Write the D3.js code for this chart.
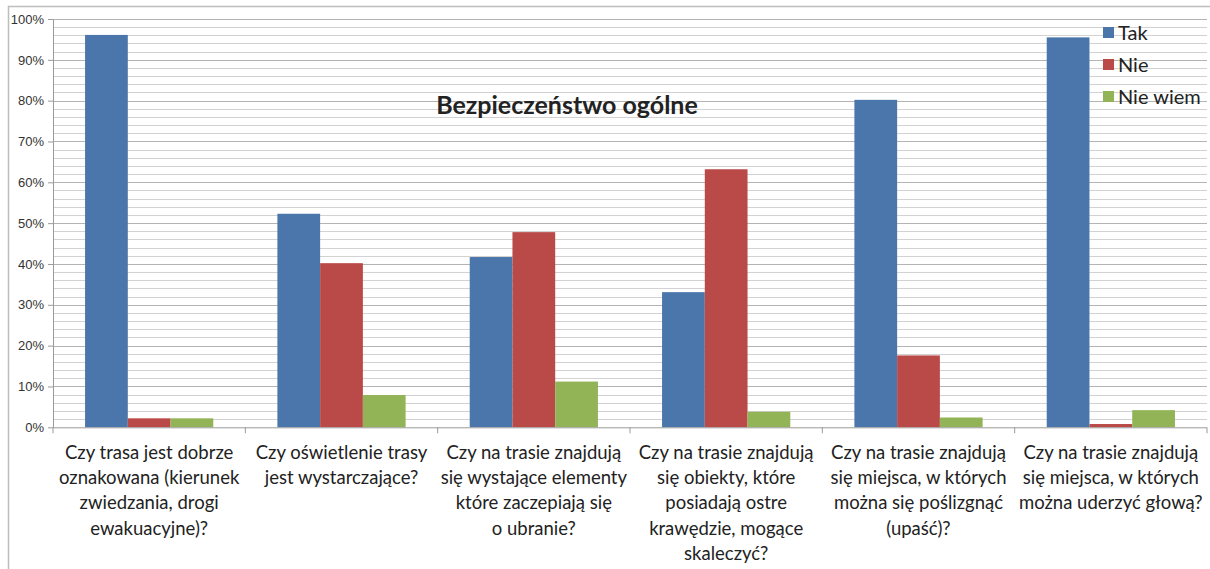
<!DOCTYPE html>
<html><head><meta charset="utf-8">
<script src="https://cdn.jsdelivr.net/npm/d3@7"></script>
<style>body{margin:0;background:#fff;}svg{display:block;font-family:Lato, "Open Sans", sans-serif;}</style>
</head><body>
<svg id="c" width="1210" height="569"></svg>
<script>
const categories = [
  ["Czy trasa jest dobrze","oznakowana (kierunek","zwiedzania, drogi","ewakuacyjne)?"],
  ["Czy oświetlenie trasy","jest wystarczające?"],
  ["Czy na trasie znajdują","się wystające elementy","które zaczepiają się","o ubranie?"],
  ["Czy na trasie znajdują","się obiekty, które","posiadają ostre","krawędzie, mogące","skaleczyć?"],
  ["Czy na trasie znajdują","się miejsca, w których","można się poślizgnąć","(upaść)?"],
  ["Czy na trasie znajdują","się miejsca, w których","można uderzyć głową?"]
];
const seriesNames = ["Tak","Nie","Nie wiem"];
const tak = [96.1, 52.3, 41.7, 33.1, 80.2, 95.5];
const nie = [2.2, 40.2, 47.8, 63.2, 17.6, 0.8];
const nieWiem = [2.2, 7.9, 11.2, 3.8, 2.4, 4.2];
const yTicks = [0,10,20,30,40,50,60,70,80,90,100];
const title = "Bezpieczeństwo ogólne";
const colors = ["#4a76ab","#b94a48","#92b457"];

const svg = d3.select("#c");
const L = 53, R = 1207, T = 19, B = 427.3;
const series = [tak, nie, nieWiem];

// chart border
svg.append("rect").attr("x",8.5).attr("y",6.5).attr("width",1230).attr("height",600)
  .attr("fill","none").attr("stroke","#bdbdbd").attr("stroke-width",1.5);

const x = d3.scaleBand().domain(d3.range(categories.length)).range([L,R]).paddingInner(0).paddingOuter(0);
const y = d3.scaleLinear().domain([0,100]).range([B,T]);
const inner = d3.scaleBand().domain(d3.range(3)).range([0,x.bandwidth()]).paddingInner(0).paddingOuter(0.75);

// minor gridlines
const minor = d3.range(0,101,2).filter(v=>v%10!==0);
svg.append("g").selectAll("line").data(minor).join("line")
  .attr("x1",L).attr("x2",R).attr("y1",d=>Math.round(y(d))+0.5).attr("y2",d=>Math.round(y(d))+0.5)
  .attr("stroke","#d2d2d2").attr("stroke-width",1);
// major gridlines
svg.append("g").selectAll("line").data(yTicks.filter(v=>v>0)).join("line")
  .attr("x1",L).attr("x2",R).attr("y1",d=>Math.round(y(d))+0.5).attr("y2",d=>Math.round(y(d))+0.5)
  .attr("stroke","#b4b4b4").attr("stroke-width",1);

// y axis
const yAxis = d3.axisLeft(y).tickValues(yTicks).tickFormat(d=>d+"%").tickSize(5).tickSizeOuter(0);
const ya = svg.append("g").attr("transform",`translate(${L},0)`).call(yAxis);
ya.select(".domain").attr("stroke","#9a9a9a");
ya.selectAll(".tick line").attr("stroke","#9a9a9a");
ya.selectAll(".tick text").attr("font-size",13).attr("fill","#333").attr("x",-9);

// bars
series.forEach((s,si)=>{
  svg.append("g").selectAll("rect").data(s).join("rect")
    .attr("x",(d,i)=>x(i)+inner(si))
    .attr("width",inner.bandwidth())
    .attr("y",d=>y(d))
    .attr("height",d=>B-y(d))
    .attr("fill",colors[si]);
});

// x axis
const xa = svg.append("g").attr("transform",`translate(0,${B})`);
xa.append("line").attr("x1",L).attr("x2",R).attr("y1",0.5).attr("y2",0.5).attr("stroke","#9a9a9a");
xa.selectAll(".tk").data(d3.range(categories.length+1)).join("line")
  .attr("x1",d=>L+d*x.bandwidth()).attr("x2",d=>L+d*x.bandwidth()).attr("y1",0).attr("y2",6).attr("stroke","#9a9a9a");

// x labels
categories.forEach((lines,i)=>{
  const t = svg.append("text").attr("text-anchor","middle").attr("font-size",18.5).attr("fill","#222");
  lines.forEach((ln,j)=>{
    t.append("tspan").attr("x",x(i)+x.bandwidth()/2).attr("y",459+j*25.2).text(ln);
  });
});

// title
svg.append("text").attr("x",567).attr("y",114).attr("text-anchor","middle")
  .attr("font-size",25).attr("font-weight","bold").attr("fill","#222").text(title);

// legend
seriesNames.forEach((n,i)=>{
  const yy = 33 + i*32;
  svg.append("rect").attr("x",1103).attr("y",yy-6).attr("width",11).attr("height",11).attr("fill",colors[i]);
  svg.append("text").attr("x",1118).attr("y",yy+7).attr("font-size",20).attr("fill","#222").text(n);
});
</script>
</body></html>
